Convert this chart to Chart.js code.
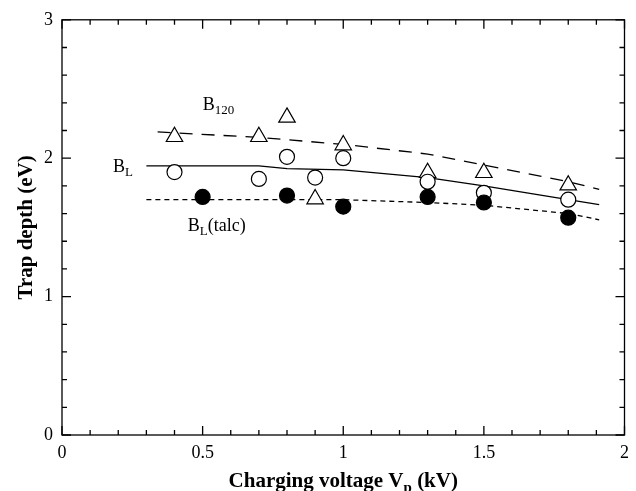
<!DOCTYPE html>
<html>
<head>
<meta charset="utf-8">
<script src="https://cdn.jsdelivr.net/npm/chart.js@4.4.0/dist/chart.umd.min.js"></script>
<style>
  html, body { margin: 0; padding: 0; background: #fff; }
  #wrap { width: 636px; height: 491px; }
</style>
</head>
<body>
<div id="wrap"><canvas id="trapChart" width="636" height="491"></canvas></div>
<script>
// measured points (charging voltage in kV, trap depth in eV)
const xB120 = [0.4, 0.7, 0.8, 0.9, 1.0, 1.3, 1.5, 1.8];
const yB120 = [2.155, 2.155, 2.295, 1.705, 2.095, 1.895, 1.895, 1.805];
const xBL = [0.4, 0.7, 0.8, 0.9, 1.0, 1.3, 1.5, 1.8];
const yBL = [1.90, 1.85, 2.01, 1.86, 2.00, 1.83, 1.75, 1.70];
const xTalc = [0.5, 0.8, 1.0, 1.3, 1.5, 1.8];
const yTalc = [1.72, 1.73, 1.65, 1.72, 1.68, 1.57];

// fitted curves
const xFitB120 = [0.34, 0.7, 1.0, 1.3, 1.5, 1.8, 1.91];
const yFitB120 = [2.19, 2.15, 2.10, 2.03, 1.95, 1.83, 1.775];
const xFitBL = [0.3, 0.7, 0.8, 1.0, 1.3, 1.5, 1.8, 1.91];
const yFitBL = [1.945, 1.945, 1.925, 1.915, 1.86, 1.80, 1.70, 1.665];
const xFitTalc = [0.3, 0.8, 1.0, 1.3, 1.5, 1.8, 1.91];
const yFitTalc = [1.70, 1.70, 1.70, 1.68, 1.66, 1.60, 1.555];

// axis ticks
const xTickLabels = ['0', '0.5', '1', '1.5', '2'];
const xMajor = [0, 0.5, 1, 1.5, 2];
const xMinor = [0.1, 0.2, 0.3, 0.4, 0.6, 0.7, 0.8, 0.9, 1.1, 1.2, 1.3, 1.4, 1.6, 1.7, 1.8, 1.9];
const yTickLabels = ['0', '1', '2', '3'];
const yMajor = [0, 1, 2, 3];
const yMinor = [0.2, 0.4, 0.6, 0.8, 1.2, 1.4, 1.6, 1.8, 2.2, 2.4, 2.6, 2.8];

const SERIF = '"Liberation Serif", "Times New Roman", serif';

function pts(xs, ys) {
    return xs.map((v, i) => ({ x: v, y: ys[i] }));
}

// text labels next to the curves: main text, subscript, trailing text, at data position
const curveLabels = [
    { main: 'B', sub: '120', tail: '', x: 0.5, y: 2.35 },
    { main: 'B', sub: 'L', tail: '', x: 0.181, y: 1.90 },
    { main: 'B', sub: 'L', tail: '(talc)', x: 0.447, y: 1.475 }
];

function subText(ctx, x, y, main, sub, tail, size, subSize, weight) {
    ctx.font = weight + ' ' + size + 'px ' + SERIF;
    const w1 = ctx.measureText(main).width;
    ctx.font = weight + ' ' + subSize + 'px ' + SERIF;
    const w2 = ctx.measureText(sub).width;
    ctx.font = weight + ' ' + size + 'px ' + SERIF;
    const w3 = ctx.measureText(tail).width;
    return {
        width: w1 + w2 + w3,
        draw(left) {
            ctx.textAlign = 'left';
            ctx.textBaseline = 'alphabetic';
            ctx.font = weight + ' ' + size + 'px ' + SERIF;
            ctx.fillText(main, left, y);
            ctx.font = weight + ' ' + subSize + 'px ' + SERIF;
            ctx.fillText(sub, left + w1, y + size * 0.22);
            ctx.font = weight + ' ' + size + 'px ' + SERIF;
            ctx.fillText(tail, left + w1 + w2, y);
        }
    };
}

const frameTicks = {
    id: 'frameTicks',
    afterDraw(chart) {
        const { ctx, chartArea: a, scales: { x, y } } = chart;
        ctx.save();
        ctx.strokeStyle = '#000';
        ctx.lineWidth = 1.3;
        ctx.strokeRect(a.left, a.top, a.right - a.left, a.bottom - a.top);
        ctx.beginPath();
        const xt = (v, len) => {
            const px = x.getPixelForValue(v);
            ctx.moveTo(px, a.bottom); ctx.lineTo(px, a.bottom - len);
            ctx.moveTo(px, a.top); ctx.lineTo(px, a.top + len);
        };
        const yt = (v, len) => {
            const py = y.getPixelForValue(v);
            ctx.moveTo(a.left, py); ctx.lineTo(a.left + len, py);
            ctx.moveTo(a.right, py); ctx.lineTo(a.right - len, py);
        };
        xMajor.forEach(v => xt(v, 9));
        xMinor.forEach(v => xt(v, 5));
        yMajor.forEach(v => yt(v, 9));
        yMinor.forEach(v => yt(v, 5));
        ctx.stroke();

        ctx.fillStyle = '#000';
        curveLabels.forEach(l => {
            const t = subText(ctx, 0, y.getPixelForValue(l.y), l.main, l.sub, l.tail, 18, 13, 'normal');
            t.draw(x.getPixelForValue(l.x));
        });

        // x axis title with subscript
        const cx = (a.left + a.right) / 2;
        const xt2 = subText(ctx, 0, 487, 'Charging voltage V', 'p', ' (kV)', 21, 15, 'bold');
        xt2.draw(cx - xt2.width / 2);

        // y axis title
        ctx.translate(32, (a.top + a.bottom) / 2);
        ctx.rotate(-Math.PI / 2);
        ctx.font = 'bold 21px ' + SERIF;
        ctx.textAlign = 'center';
        ctx.textBaseline = 'alphabetic';
        ctx.fillText('Trap depth (eV)', 0, 0);
        ctx.restore();
    }
};

const ctx = document.getElementById('trapChart').getContext('2d');
const trapChart = new Chart(ctx, {
    type: 'scatter',
    data: {
        datasets: [
            {
                label: 'BL(talc)',
                data: pts(xTalc, yTalc),
                pointStyle: 'circle',
                pointRadius: 7.5,
                backgroundColor: '#000',
                borderColor: '#000',
                borderWidth: 1.2,
                order: 0
            },
            {
                label: 'BL',
                data: pts(xBL, yBL),
                pointStyle: 'circle',
                pointRadius: 7.5,
                backgroundColor: '#fff',
                borderColor: '#000',
                borderWidth: 1.2,
                order: 1
            },
            {
                label: 'B120',
                data: pts(xB120, yB120),
                pointStyle: 'triangle',
                pointRadius: 9.5,
                backgroundColor: '#fff',
                borderColor: '#000',
                borderWidth: 1.2,
                order: 2
            },
            {
                label: 'B120 fit',
                data: pts(xFitB120, yFitB120),
                showLine: true,
                pointRadius: 0,
                borderColor: '#000',
                borderWidth: 1.3,
                borderDash: [13, 9],
                order: 3
            },
            {
                label: 'BL fit',
                data: pts(xFitBL, yFitBL),
                showLine: true,
                pointRadius: 0,
                borderColor: '#000',
                borderWidth: 1.3,
                order: 3
            },
            {
                label: 'BL(talc) fit',
                data: pts(xFitTalc, yFitTalc),
                showLine: true,
                pointRadius: 0,
                borderColor: '#000',
                borderWidth: 1.3,
                borderDash: [5, 4],
                order: 3
            }
        ]
    },
    options: {
        responsive: false,
        animation: false,
        layout: {
            padding: { left: 0, top: 14, right: 10, bottom: 0 }
        },
        plugins: {
            legend: { display: false },
            tooltip: { enabled: false },
            title: { display: false }
        },
        scales: {
            x: {
                type: 'linear',
                min: 0,
                max: 2,
                afterFit: s => { s.height = 56; },
                afterBuildTicks: s => { s.ticks = xMajor.map(v => ({ value: v })); },
                grid: { display: false, drawTicks: false },
                border: { display: false },
                ticks: {
                    color: '#000',
                    padding: 7,
                    maxRotation: 0,
                    font: { family: SERIF, size: 18 },
                    callback: (v, i) => xTickLabels[i]
                }
            },
            y: {
                type: 'linear',
                min: 0,
                max: 3,
                afterFit: s => { s.width = 62; },
                afterBuildTicks: s => { s.ticks = yMajor.map(v => ({ value: v })); },
                grid: { display: false, drawTicks: false },
                border: { display: false },
                ticks: {
                    color: '#000',
                    padding: 9,
                    font: { family: SERIF, size: 18 },
                    callback: (v, i) => yTickLabels[i]
                }
            }
        }
    },
    plugins: [frameTicks]
});
</script>
</body>
</html>
